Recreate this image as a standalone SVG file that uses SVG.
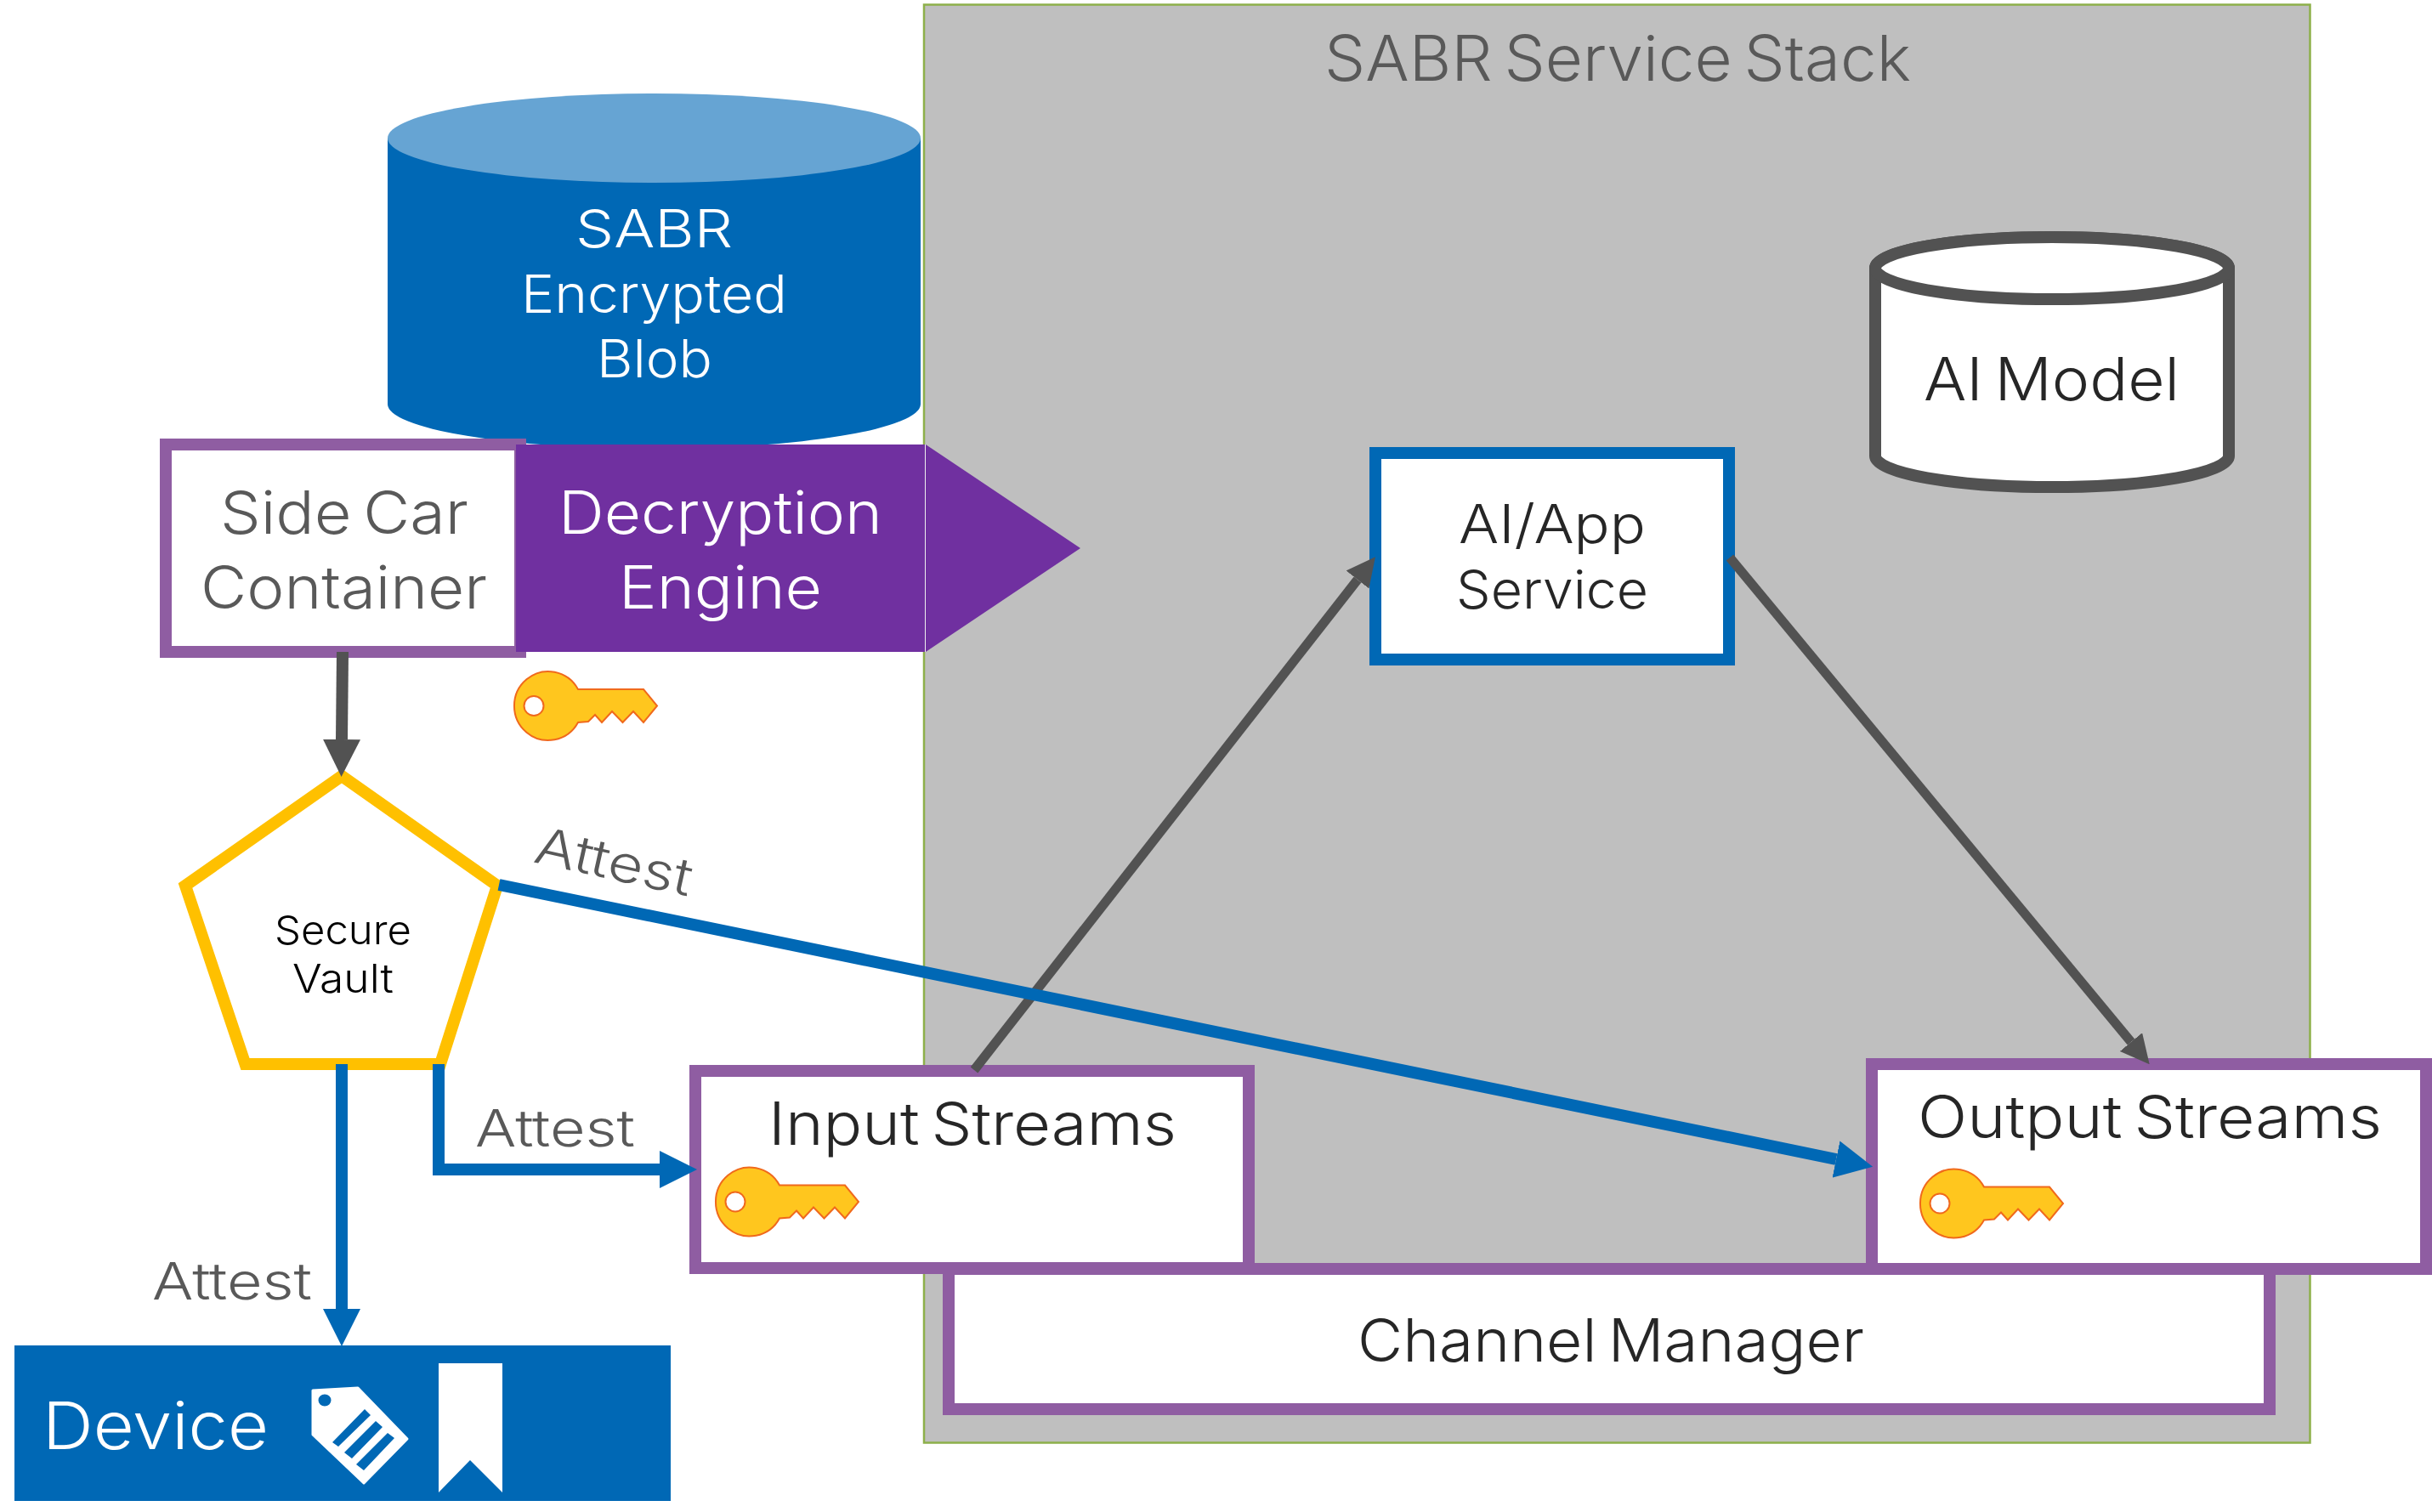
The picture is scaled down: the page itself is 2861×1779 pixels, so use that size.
<svg xmlns="http://www.w3.org/2000/svg" width="2861" height="1779" viewBox="0 0 2861 1779">
<style>
text{font-family:"Inter","Liberation Sans",sans-serif;font-weight:300;text-anchor:start;word-spacing:-0.1em;font-variant-ligatures:none}
.g{fill:#595959}.d{fill:#262626}.w{fill:#fff}
.pb{fill:#fff;stroke:#8F5DA2;stroke-width:14}
.bl{fill:none;stroke:#0068B5;stroke-width:14}
.gr{fill:none;stroke:#525252}
.key{fill:#FFC61E;stroke:#F0691C;stroke-width:2}
</style>
<defs>
<marker id="ab" markerUnits="userSpaceOnUse" markerWidth="44" markerHeight="44" refX="0" refY="21" orient="auto" viewBox="0 0 42 42"><path d="M0 0L42 21L0 42z" fill="#0068B5"/></marker>
<marker id="ag" markerUnits="userSpaceOnUse" markerWidth="44" markerHeight="44" refX="0" refY="21" orient="auto" viewBox="0 0 42 42"><path d="M0 0L42 21L0 42z" fill="#525252"/></marker>
<marker id="ag2" markerUnits="userSpaceOnUse" markerWidth="34" markerHeight="34" refX="0" refY="15" orient="auto" viewBox="0 0 30 30"><path d="M0 0L30 15L0 30z" fill="#525252"/></marker>
<symbol id="k" overflow="visible"><path class="key" fill-rule="evenodd" d="M36 -19.500A40 40.500 0 1 0 36 19.500L48 18.500L56 10.500L64 19.500L76 6.500L88.500 19.500L101 6.500L113 19.500L129 0L113 -19.500L36 -19.500ZM-4.500 0A11.500 11.500 0 1 0 -27.500 0A11.500 11.500 0 1 0 -4.500 0Z"/></symbol>
</defs>
<g id="stack"><rect x="1087" y="5.500" width="1630.500" height="1692" fill="#BFBFBF" stroke="#8DB04A" stroke-width="2.500"/>
<text class="g" x="1558" y="95" font-size="74" textLength="690" lengthAdjust="spacingAndGlyphs">SABR Service Stack</text></g>
<g id="blob"><path d="M456 162.500V475.500A313.500 52.500 0 0 0 1083 475.500V162.500Z" fill="#0068B5"/><ellipse cx="769.500" cy="162.500" rx="313.500" ry="52.500" fill="#66A4D3"/>
<text class="w" x="677" y="291" font-size="62" textLength="185" lengthAdjust="spacingAndGlyphs">SABR</text>
<text class="w" x="613" y="368" font-size="62" textLength="313" lengthAdjust="spacingAndGlyphs">Encrypted</text>
<text class="w" x="702" y="444" font-size="62" textLength="136" lengthAdjust="spacingAndGlyphs">Blob</text></g>
<g id="sidecar"><rect class="pb" x="195" y="523" width="417" height="244"/>
<text class="g" x="259" y="628" font-size="70" textLength="292" lengthAdjust="spacingAndGlyphs">Side Car</text>
<text class="g" x="236" y="716" font-size="70" textLength="337" lengthAdjust="spacingAndGlyphs">Container</text></g>
<g id="decrypt"><path d="M607 523H1088V767H607ZM1089 523L1271 645L1089 767Z" fill="#7030A0"/><path d="M1088.500 523V767" stroke="#EFEFEF" stroke-width="1"/>
<text class="w" x="657" y="628" font-size="70" textLength="381" lengthAdjust="spacingAndGlyphs">Decryption</text>
<text class="w" x="728" y="716" font-size="70" textLength="239" lengthAdjust="spacingAndGlyphs">Engine</text></g>
<g id="key1"><use href="#k" x="644" y="830.500"/></g>
<g id="ai-model"><path d="M2206 315.500V536.500A208 36.500 0 0 0 2622 536.500V315.500A208 36.500 0 0 0 2206 315.500Z" fill="#fff" stroke="#525252" stroke-width="14"/><ellipse cx="2414" cy="315.500" rx="208" ry="36.500" fill="#fff" stroke="#525252" stroke-width="14"/>
<text class="d" x="2263" y="471" font-size="70" textLength="301" lengthAdjust="spacingAndGlyphs">AI Model</text></g>
<g id="ai-app"><rect x="1618" y="533" width="416" height="243" fill="#fff" stroke="#0068B5" stroke-width="14"/>
<text class="d" x="1716" y="639" font-size="63" textLength="220" lengthAdjust="spacingAndGlyphs">AI/App</text>
<text class="d" x="1713" y="716" font-size="63" textLength="226" lengthAdjust="spacingAndGlyphs">Service</text></g>
<g id="channel"><rect class="pb" x="1116" y="1493" width="1554" height="165"/>
<text class="d" x="1597" y="1602" font-size="70" textLength="596" lengthAdjust="spacingAndGlyphs">Channel Manager</text></g>
<g id="input"><rect class="pb" x="818" y="1260" width="651" height="232"/>
<text class="d" x="904" y="1347" font-size="70" textLength="480" lengthAdjust="spacingAndGlyphs">Input Streams</text><use href="#k" x="881" y="1414"/></g>
<g id="output"><rect class="pb" x="2202" y="1252" width="652" height="241"/>
<text class="d" x="2256" y="1339" font-size="70" textLength="546" lengthAdjust="spacingAndGlyphs">Output Streams</text><use href="#k" x="2298" y="1416"/></g>
<g id="vault"><path d="M402 913L585 1042L518 1252H288.500L218 1042Z" fill="#fff" stroke="#FFC000" stroke-width="14"/>
<text x="323" y="1111" font-size="47" fill="#000" textLength="161" lengthAdjust="spacingAndGlyphs">Secure</text>
<text x="344" y="1168" font-size="47" fill="#000" textLength="119" lengthAdjust="spacingAndGlyphs">Vault</text></g>
<g id="device"><rect x="17" y="1583" width="772" height="183" fill="#0068B5"/>
<text class="w" x="50" y="1705" font-size="77" textLength="266" lengthAdjust="spacingAndGlyphs">Device</text>
<path fill="#fff" d="M421 1633L479 1693L428 1745L368 1688V1636ZM373 1647.500a9 8.500 0 1 0 18 0a9 8.500 0 1 0 -18 0Z" fill-rule="evenodd" stroke="#fff" stroke-width="3" stroke-linejoin="round"/>
<path fill="#0068B5" d="M429 1658L436 1665L398 1702L391 1697ZM442 1672L450 1679L414 1716L405 1709ZM456 1686L464 1692L428 1730L419 1723Z"/>
<path fill="#fff" d="M516 1604H591V1756L553 1718L516 1756Z"/></g>
<g id="connectors">
<path class="gr" stroke-width="14" d="M403 767L402 870" marker-end="url(#ag)"/>
<path class="gr" stroke-width="11" d="M1146 1259L1597 682" marker-end="url(#ag2)"/>
<path class="gr" stroke-width="11" d="M2035 656L2507 1226" marker-end="url(#ag2)"/>
<path class="bl" d="M402 1252V1540" marker-end="url(#ab)"/>
<path class="bl" d="M516 1252V1376H776" marker-end="url(#ab)"/>
<path class="bl" d="M587 1041L2160 1364" marker-end="url(#ab)"/>
</g>
<g id="labels">
<text class="g" x="559" y="1349" font-size="60" textLength="188" lengthAdjust="spacingAndGlyphs">Attest</text>
<text class="g" x="179" y="1529" font-size="60" textLength="188" lengthAdjust="spacingAndGlyphs">Attest</text>
<text class="g" transform="translate(626 1014) rotate(12.500)" font-size="60" textLength="188" lengthAdjust="spacingAndGlyphs">Attest</text>
</g>
</svg>
